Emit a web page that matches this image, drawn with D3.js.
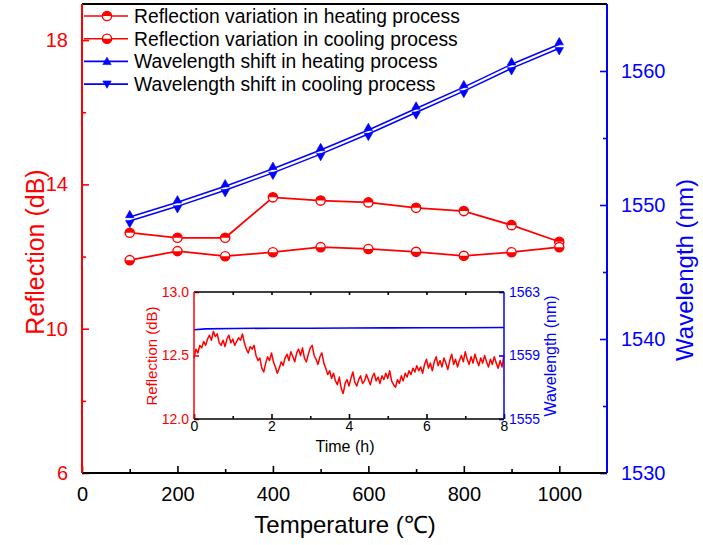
<!DOCTYPE html>
<html><head><meta charset="utf-8">
<script src="https://cdn.jsdelivr.net/npm/d3@7"></script>
<style>body{margin:0;background:#fff}svg{display:block}text{font-family:Arial,"Liberation Sans",sans-serif}</style>
</head><body>
<svg id="c" width="703" height="545"></svg>
<script>
// ---------- data ----------
const temps = [100,200,300,400,500,600,700,800,900,1000];
const reflHeating = [12.66,12.52,12.52,13.64,13.55,13.50,13.35,13.26,12.87,12.41];
const reflCooling = [11.90,12.15,12.01,12.12,12.26,12.21,12.13,12.02,12.12,12.26];
const wlHeating = [1549.1,1550.2,1551.4,1552.7,1554.1,1555.6,1557.2,1558.8,1560.5,1562.0];
const wlCooling = [1548.8,1549.9,1551.1,1552.4,1553.8,1555.3,1556.9,1558.5,1560.2,1561.7];
const xTicks = [0,200,400,600,800,1000];
const yLTicks = [6,10,14,18];
const yRTicks = [1530,1540,1550,1560];
const legendLabels = ["Reflection variation in heating process","Reflection variation in cooling process","Wavelength shift in heating process","Wavelength shift in cooling process"];
// inset (stability test)
const insetStep = 0.05; // hours between samples
const insetRefl = [12.48,12.55,12.52,12.58,12.56,12.61,12.58,12.63,12.66,12.62,12.69,12.65,12.67,12.60,12.58,12.62,12.57,12.63,12.66,12.60,
12.63,12.58,12.61,12.64,12.62,12.67,12.60,12.55,12.52,12.57,12.55,12.58,12.50,12.46,12.48,12.40,12.37,12.44,12.49,12.46,
12.52,12.45,12.41,12.36,12.40,12.45,12.42,12.48,12.51,12.46,12.53,12.49,12.45,12.52,12.55,12.50,12.56,12.48,12.45,12.51,
12.56,12.58,12.50,12.47,12.43,12.49,12.52,12.44,12.40,12.35,12.38,12.32,12.36,12.30,12.27,12.33,12.24,12.20,12.28,12.31,
12.26,12.32,12.37,12.29,12.26,12.31,12.34,12.28,12.30,12.35,12.31,12.27,12.33,12.36,12.30,12.33,12.28,12.34,12.31,12.36,
12.32,12.38,12.30,12.27,12.25,12.31,12.28,12.34,12.30,12.36,12.33,12.38,12.35,12.40,12.37,12.42,12.38,12.41,12.36,12.43,
12.47,12.40,12.44,12.38,12.45,12.49,12.42,12.46,12.41,12.48,12.44,12.39,12.46,12.51,12.43,12.47,12.41,12.46,12.50,12.45,
12.53,12.47,12.43,12.49,12.44,12.51,12.46,12.42,12.48,12.44,12.50,12.45,12.41,12.47,12.43,12.49,12.44,12.40,12.46,12.41,12.50];
const insetWlTime = [0,0.3,1,2,3,4,5,6,7,8];
const insetWl = [1560.62,1560.68,1560.70,1560.72,1560.72,1560.73,1560.74,1560.75,1560.75,1560.76];
const insetXTicks = [0,2,4,6,8];
const insetYLTicks = [12.0,12.5,13.0];
const insetYRTicks = [1555,1559,1563];

// ---------- setup ----------
const RED = "#ff0000", BLUE = "#0000ff";
const svg = d3.select("#c");
const x = d3.scaleLinear().domain([0,1100]).range([82,607]);
const yL = d3.scaleLinear().domain([6,19]).range([473,4]);
const yR = d3.scaleLinear().domain([1530,1565]).range([473,4]);

function axisStyle(g, color, fs) {
  g.selectAll(".domain").remove();
  g.selectAll(".tick line").attr("stroke", color).attr("stroke-width", 1.6);
  g.selectAll(".tick text").attr("fill", color).style("font-size", fs + "px");
}

// main axes (inward ticks)
const gx = svg.append("g").attr("transform","translate(0,473)")
  .call(d3.axisBottom(x).tickValues(xTicks).tickSize(-7).tickPadding(14).tickFormat(d3.format("d")));
axisStyle(gx, "#000", 20);
const gxm = svg.append("g").attr("transform","translate(0,473)")
  .call(d3.axisBottom(x).tickValues([100,300,500,700,900]).tickSize(-4).tickFormat(""));
axisStyle(gxm, "#000", 20);

const gl = svg.append("g").attr("transform","translate(82,0)")
  .call(d3.axisLeft(yL).tickValues(yLTicks).tickSize(-7).tickPadding(14).tickFormat(d3.format("d")));
axisStyle(gl, RED, 20);
const glm = svg.append("g").attr("transform","translate(82,0)")
  .call(d3.axisLeft(yL).tickValues([8,12,16]).tickSize(-4).tickFormat(""));
axisStyle(glm, RED, 20);

const gr = svg.append("g").attr("transform","translate(607,0)")
  .call(d3.axisRight(yR).tickValues(yRTicks).tickSize(-7).tickPadding(14).tickFormat(d3.format("d")));
axisStyle(gr, BLUE, 20);
const grm = svg.append("g").attr("transform","translate(607,0)")
  .call(d3.axisRight(yR).tickValues([1535,1545,1555]).tickSize(-4).tickFormat(""));
axisStyle(grm, BLUE, 20);

// frame lines
svg.append("line").attr("x1",x(0)).attr("x2",x(1100)).attr("y1",yL(19)).attr("y2",yL(19)).attr("stroke","#000").attr("stroke-width",2);
svg.append("line").attr("x1",x(0)).attr("x2",x(1100)).attr("y1",yL(6)).attr("y2",yL(6)).attr("stroke","#000").attr("stroke-width",2);
svg.append("line").attr("x1",x(0)).attr("x2",x(0)).attr("y1",yL(6)).attr("y2",yL(19)).attr("stroke",RED).attr("stroke-width",2);
svg.append("line").attr("x1",x(1100)).attr("x2",x(1100)).attr("y1",yL(6)).attr("y2",yL(19)).attr("stroke",BLUE).attr("stroke-width",2);

// axis titles
svg.append("text").attr("transform","translate(44,252) rotate(-90)").attr("text-anchor","middle")
  .attr("fill",RED).style("font-size","25px").text("Reflection (dB)");
svg.append("text").attr("transform","translate(693,270) rotate(-90)").attr("text-anchor","middle")
  .attr("fill",BLUE).style("font-size","24px").text("Wavelength (nm)");
svg.append("text").attr("x",345).attr("y",533).attr("text-anchor","middle")
  .attr("fill","#000").style("font-size","24px").text("Temperature (℃)");

// marker helpers
const R = 4.6;
function halfCircle(g, cx, cy, color, topFilled) {
  const m = g.append("g").attr("transform",`translate(${cx},${cy})`);
  m.append("circle").attr("r",R).attr("fill","#fff").attr("stroke",color).attr("stroke-width",1.4);
  const p = topFilled ? `M${-R},0 A${R},${R} 0 0 1 ${R},0 Z` : `M${-R},0 A${R},${R} 0 0 0 ${R},0 Z`;
  m.append("path").attr("d",p).attr("fill",color);
}
function tri(g, cx, cy, color, up) {
  const s = 4.2;
  const p = up ? `M0,${-s} L${s},${s*0.75} L${-s},${s*0.75} Z` : `M0,${s} L${s},${-s*0.75} L${-s},${-s*0.75} Z`;
  g.append("path").attr("transform",`translate(${cx},${cy})`).attr("d",p).attr("fill",color).attr("stroke",color).attr("stroke-width",0.6);
}

const plot = svg.append("g");
const lineL = d3.line().x((d,i)=>x(temps[i])).y(d=>yL(d));
const lineR = d3.line().x((d,i)=>x(temps[i])).y(d=>yR(d));
[wlHeating, wlCooling].forEach(s => plot.append("path").attr("d",lineR(s)).attr("fill","none").attr("stroke",BLUE).attr("stroke-width",1.5));
[reflHeating, reflCooling].forEach(s => plot.append("path").attr("d",lineL(s)).attr("fill","none").attr("stroke",RED).attr("stroke-width",1.8));
wlHeating.forEach((d,i)=>tri(plot, x(temps[i]), yR(d)-2.5, BLUE, true));
wlCooling.forEach((d,i)=>tri(plot, x(temps[i]), yR(d)+2.5, BLUE, false));
reflHeating.forEach((d,i)=>halfCircle(plot, x(temps[i]), yL(d), RED, true));
reflCooling.forEach((d,i)=>halfCircle(plot, x(temps[i]), yL(d), RED, false));

// legend
const leg = svg.append("g");
legendLabels.forEach((lab,i)=>{
  const yy = 16 + i*22.7;
  const col = i<2 ? RED : BLUE;
  leg.append("line").attr("x1",84).attr("x2",128).attr("y1",yy).attr("y2",yy).attr("stroke",col).attr("stroke-width",1.6);
  if (i===0) halfCircle(leg,107,yy,col,true);
  else if (i===1) halfCircle(leg,107,yy,col,false);
  else if (i===2) tri(leg,107,yy,col,true);
  else tri(leg,107,yy,col,false);
  leg.append("text").attr("x",134).attr("y",yy+7).attr("fill","#000").style("font-size","19.3px").text(lab);
});

// ---------- inset ----------
const ix = d3.scaleLinear().domain([0,8]).range([194,504]);
const iyL = d3.scaleLinear().domain([12,13]).range([419,292]);
const iyR = d3.scaleLinear().domain([1555,1563]).range([419,292]);
const inset = svg.append("g");
inset.append("rect").attr("x",194).attr("y",292).attr("width",310).attr("height",127).attr("fill","#fff");

const igx = inset.append("g").attr("transform","translate(0,419)")
  .call(d3.axisBottom(ix).tickValues(insetXTicks).tickSize(-5).tickPadding(2).tickFormat(d3.format("d")));
axisStyle(igx,"#000",14);
const igxm = inset.append("g").attr("transform","translate(0,419)")
  .call(d3.axisBottom(ix).tickValues([1,3,5,7]).tickSize(-3).tickFormat(""));
axisStyle(igxm,"#000",14);
const igt = inset.append("g").attr("transform","translate(0,292)")
  .call(d3.axisTop(ix).tickValues([1,2,3,4,5,6,7]).tickSize(-3).tickFormat(""));
axisStyle(igt,"#000",14);
const igl = inset.append("g").attr("transform","translate(194,0)")
  .call(d3.axisLeft(iyL).tickValues(insetYLTicks).tickSize(-5).tickPadding(5).tickFormat(d3.format(".1f")));
axisStyle(igl,RED,14);
const igr = inset.append("g").attr("transform","translate(504,0)")
  .call(d3.axisRight(iyR).tickValues(insetYRTicks).tickSize(-5).tickPadding(5).tickFormat(d3.format("d")));
axisStyle(igr,BLUE,14);

const insetLine = d3.line().x((d,i)=>ix(i*insetStep)).y(d=>iyL(d));
inset.append("path").attr("d",insetLine(insetRefl)).attr("fill","none").attr("stroke",RED).attr("stroke-width",1.5).attr("stroke-linejoin","round");
const insetWlLine = d3.line().x((d,i)=>ix(insetWlTime[i])).y(d=>iyR(d));
inset.append("path").attr("d",insetWlLine(insetWl)).attr("fill","none").attr("stroke",BLUE).attr("stroke-width",1.6);

inset.append("line").attr("x1",194).attr("x2",504).attr("y1",292).attr("y2",292).attr("stroke","#000").attr("stroke-width",1.5);
inset.append("line").attr("x1",194).attr("x2",504).attr("y1",419).attr("y2",419).attr("stroke","#000").attr("stroke-width",1.5);
inset.append("line").attr("x1",194).attr("x2",194).attr("y1",292).attr("y2",419).attr("stroke",RED).attr("stroke-width",1.5);
inset.append("line").attr("x1",504).attr("x2",504).attr("y1",292).attr("y2",419).attr("stroke",BLUE).attr("stroke-width",1.5);

inset.append("text").attr("transform","translate(157,356) rotate(-90)").attr("text-anchor","middle")
  .attr("fill",RED).style("font-size","15px").text("Reflection (dB)");
inset.append("text").attr("transform","translate(556,356) rotate(-90)").attr("text-anchor","middle")
  .attr("fill",BLUE).style("font-size","16px").text("Wavelength (nm)");
inset.append("text").attr("x",345).attr("y",452).attr("text-anchor","middle")
  .attr("fill","#000").style("font-size","16px").text("Time (h)");
</script>
</body></html>
